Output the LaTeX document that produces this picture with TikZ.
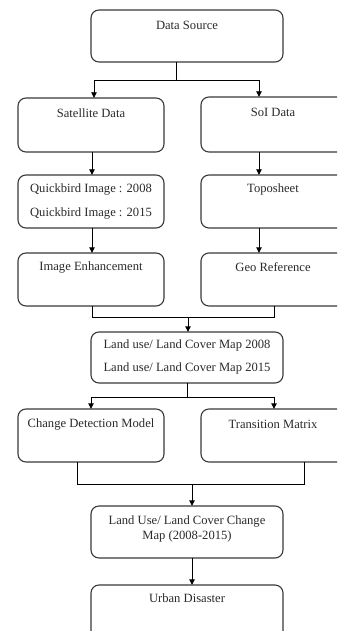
\documentclass[tikz,border=0pt]{standalone}
\usepackage{fontspec}
\setmainfont{Liberation Serif}
\usetikzlibrary{arrows.meta}
\definecolor{boxline}{HTML}{3A3A3A}
\definecolor{txt}{HTML}{2A2A2A}
\tikzset{
  box/.style={draw=boxline, line width=1.1pt, rounded corners=8pt, inner sep=0pt},
  lbl/.style={inner sep=0pt, text=txt, font=\fontsize{12.6}{15}\selectfont, align=center},
  conn/.style={draw=black, line width=0.9pt},
  arr/.style={conn, -{Triangle[width=5.5pt,length=5.5pt]}},
}
\newcommand{\mybox}[5]{\path[box] (#2,#3) rectangle (#4,#5); \node[inner sep=0pt, minimum width=#4pt-#2pt, minimum height=#5pt-#3pt] (#1) at ({(#2+#4)/2},{(#3+#5)/2}) {};}
\begin{document}
\begin{tikzpicture}[x=1pt,y=-1pt]
\clip (0,0) rectangle (337,631);
\fill[white] (0,0) rectangle (337,631);
% boxes
\mybox{ds}{91}{10}{283}{62}
\mybox{sat}{18}{98}{164}{152}
\mybox{soi}{201}{97}{345}{152}
\mybox{qb}{18}{175}{164}{228}
\mybox{topo}{201}{175}{345}{228}
\mybox{ie}{18}{253}{164}{306}
\mybox{geo}{201}{253}{345}{306}
\mybox{lulc}{91}{332}{283}{383}
\mybox{cdm}{18}{409}{164}{462}
\mybox{tm}{201}{409}{345}{462}
\mybox{chg}{91}{506}{283}{558}
\mybox{ud}{91}{585}{283}{655}
% labels
\node[lbl] (tds) at (187,25) {Data Source};
\node[lbl] (tsat) at (91,113) {Satellite Data};
\node[lbl] (tsoi) at (273,112) {SoI Data};
\node[lbl] (tqb1) at (91,189) {Quickbird Image : 2008};
\node[lbl] (tqb2) at (91,213) {Quickbird Image : 2015};
\node[lbl] (ttopo) at (273,189) {Toposheet};
\node[lbl] (tie) at (91,267) {Image Enhancement};
\node[lbl] (tgeo) at (273,267) {Geo Reference};
\node[lbl] (tl1) at (187,345) {Land use/ Land Cover Map 2008};
\node[lbl] (tl2) at (187,368) {Land use/ Land Cover Map 2015};
\node[lbl] (tcdm) at (91,424) {Change Detection Model};
\node[lbl] (ttm) at (273,424) {Transition Matrix};
\node[lbl] (tchg) at (187,528.5) {Land Use/ Land Cover Change\\Map (2008-2015)};
\node[lbl] (tud) at (187,598) {Urban Disaster};
% junction coordinates
\coordinate (j1) at (176,80);
\coordinate (j1l) at (94,80);
\coordinate (j1r) at (259,80);
\coordinate (cl) at (92,0);
\coordinate (cr) at (259,0);
\coordinate (j2l) at (92,317);
\coordinate (j2r) at (274,317);
\coordinate (j2) at (188,317);
\coordinate (j3) at (187,397);
\coordinate (j3l) at (91,397);
\coordinate (j3r) at (274,397);
\coordinate (j4l) at (77,484);
\coordinate (j4r) at (304,484);
\coordinate (j4) at (192,484);
% connectors
\draw[conn] (j1 |- ds.south) -- (j1);
\draw[conn] (j1l) -- (j1r);
\draw[arr] (j1l) -- (j1l |- sat.north);
\draw[arr] (j1r) -- (j1r |- soi.north);
\draw[arr] (cl |- sat.south) -- (cl |- qb.north);
\draw[arr] (cr |- soi.south) -- (cr |- topo.north);
\draw[arr] (cl |- qb.south) -- (cl |- ie.north);
\draw[arr] (cr |- topo.south) -- (cr |- geo.north);
\draw[conn] (j2l |- ie.south) -- (j2l) -- (j2r) -- (j2r |- geo.south);
\draw[arr] (j2) -- (j2 |- lulc.north);
\draw[conn] (j3 |- lulc.south) -- (j3);
\draw[conn] (j3l) -- (j3r);
\draw[arr] (j3l) -- (j3l |- cdm.north);
\draw[arr] (j3r) -- (j3r |- tm.north);
\draw[conn] (j4l |- cdm.south) -- (j4l) -- (j4r) -- (j4r |- tm.south);
\draw[arr] (j4) -- (j4 |- chg.north);
\draw[arr] (j4 |- chg.south) -- (j4 |- ud.north);
\end{tikzpicture}
\end{document}
